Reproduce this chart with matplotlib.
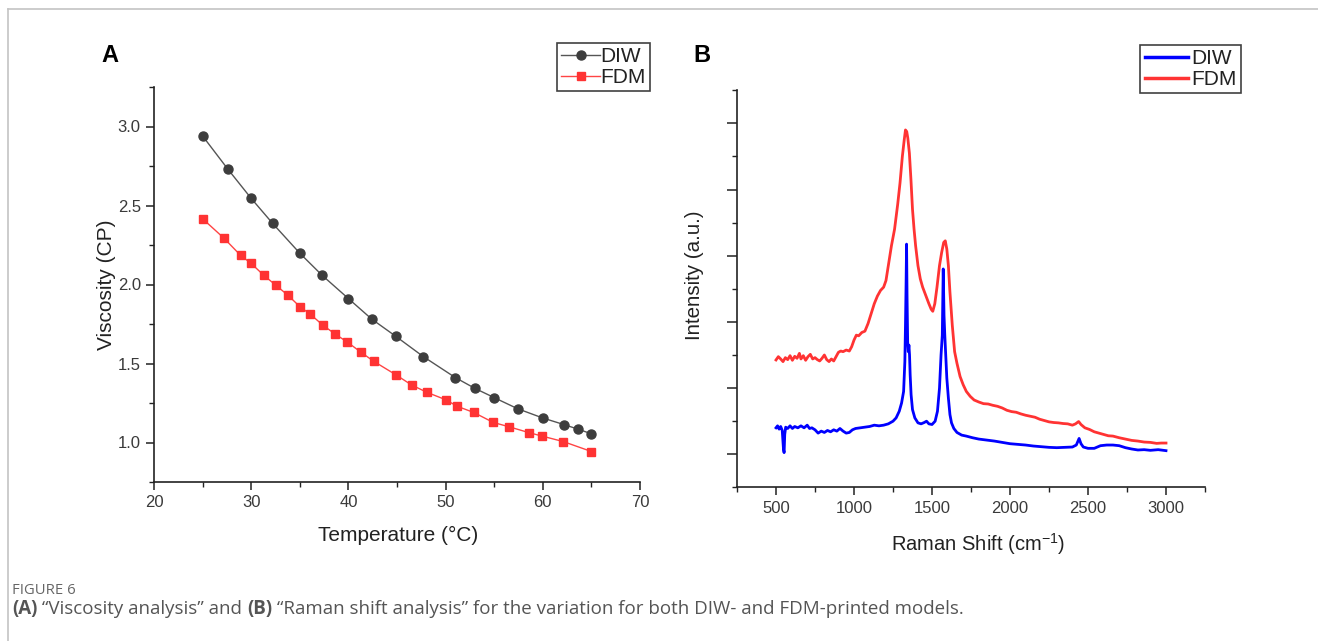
import matplotlib
matplotlib.use('Agg')
import matplotlib.pyplot as plt
from matplotlib.lines import Line2D
from matplotlib.ticker import MultipleLocator, NullFormatter

plt.rcParams['font.family'] = ['Liberation Sans', 'DejaVu Sans']
plt.rcParams['mathtext.default'] = 'regular'

W, H = 1318, 641

# ---- panel A: viscosity vs temperature ----
DIW_T = [25.0, 27.6, 30.0, 32.2, 35.0, 37.3, 40.0, 42.4, 44.9, 47.7, 51.0,
         53.0, 55.0, 57.4, 60.0, 62.2, 63.6, 65.0]
DIW_V = [2.94, 2.73, 2.545, 2.387, 2.198, 2.058, 1.911, 1.781, 1.671, 1.544,
         1.411, 1.343, 1.284, 1.214, 1.155, 1.113, 1.085, 1.055]

FDM_T = [25.0, 27.2, 28.9, 30.0, 31.3, 32.5, 33.8, 35.0, 36.1, 37.4, 38.65,
         39.9, 41.3, 42.6, 44.9, 46.5, 48.1, 50.0, 51.2, 52.9, 54.9, 56.5,
         58.6, 59.9, 62.1, 65.0]
FDM_V = [2.416, 2.293, 2.185, 2.133, 2.058, 1.997, 1.931, 1.860, 1.811, 1.741,
         1.686, 1.635, 1.571, 1.514, 1.428, 1.364, 1.317, 1.271, 1.229, 1.190,
         1.127, 1.100, 1.062, 1.041, 1.006, 0.943]

# ---- panel B: Raman spectra (arbitrary intensity units) ----
DIW_SHIFT = [500, 510, 520, 530, 540, 548, 552, 556, 562, 575, 590, 605, 620,
             640, 660, 680, 700, 715, 730, 750, 770, 790, 810, 830, 850, 870,
             890, 910, 930, 950, 970, 990, 1010, 1040, 1070, 1100, 1130, 1160,
             1190, 1220, 1250, 1270, 1290, 1305, 1318, 1326, 1330, 1334, 1337,
             1340, 1344, 1348, 1352, 1356, 1360, 1366, 1375, 1390, 1410, 1430,
             1450, 1465, 1480, 1500, 1520, 1535, 1548, 1558, 1566, 1572, 1577,
             1582, 1588, 1595, 1605, 1615, 1625, 1640, 1660, 1690, 1720, 1760,
             1800, 1850, 1900, 1950, 2000, 2050, 2100, 2150, 2200, 2250, 2300,
             2350, 2400, 2425, 2443, 2455, 2470, 2500, 2540, 2580, 2620, 2660,
             2700, 2740, 2780, 2820, 2860, 2900, 2950, 3000]
DIW_INT = [0.80, 0.86, 0.76, 0.84, 0.72, 0.15, 0.05, 0.60, 0.82, 0.78, 0.86,
           0.78, 0.84, 0.80, 0.86, 0.80, 0.88, 0.78, 0.80, 0.74, 0.64, 0.70,
           0.66, 0.72, 0.68, 0.74, 0.70, 0.78, 0.70, 0.64, 0.66, 0.74, 0.78,
           0.80, 0.82, 0.84, 0.88, 0.86, 0.88, 0.92, 1.00, 1.10, 1.30, 1.55,
           1.90, 2.80, 3.90, 5.20, 6.35, 4.80, 3.40, 3.10, 3.30, 3.00, 2.40,
           1.80, 1.35, 1.10, 0.95, 0.92, 0.96, 1.00, 0.92, 0.90, 1.00, 1.30,
           2.00, 3.00, 3.60, 5.60, 4.20, 3.60, 3.00, 2.30, 1.70, 1.20, 0.95,
           0.78, 0.66, 0.58, 0.55, 0.50, 0.46, 0.43, 0.40, 0.36, 0.32, 0.30,
           0.28, 0.25, 0.23, 0.21, 0.20, 0.21, 0.22, 0.28, 0.48, 0.32, 0.22,
           0.18, 0.18, 0.26, 0.28, 0.28, 0.26, 0.20, 0.16, 0.13, 0.14, 0.12,
           0.14, 0.11]

FDM_SHIFT = [500, 515, 530, 545, 560, 575, 590, 605, 620, 635, 650, 660, 675,
             690, 705, 720, 735, 750, 765, 780, 795, 810, 825, 840, 855, 870,
             885, 900, 915, 930, 950, 970, 985, 1000, 1015, 1030, 1050, 1070,
             1090, 1110, 1130, 1150, 1170, 1190, 1205, 1220, 1240, 1260, 1280,
             1295, 1310, 1322, 1330, 1338, 1345, 1355, 1365, 1375, 1385, 1395,
             1410, 1425, 1440, 1460, 1480, 1495, 1505, 1518, 1532, 1548, 1562,
             1575, 1585, 1595, 1605, 1615, 1630, 1645, 1660, 1680, 1700, 1720,
             1745, 1770, 1800, 1830, 1860, 1890, 1920, 1950, 1980, 2010, 2040,
             2070, 2100, 2130, 2160, 2190, 2220, 2250, 2280, 2310, 2340, 2370,
             2400, 2420, 2440, 2455, 2480, 2510, 2540, 2570, 2600, 2630, 2660,
             2700, 2740, 2780, 2820, 2860, 2900, 2940, 2970, 3000]
FDM_INT = [2.85, 2.95, 2.88, 2.80, 2.92, 2.86, 2.98, 2.84, 2.96, 2.90, 3.05,
           2.88, 2.98, 2.84, 2.95, 3.02, 2.88, 2.92, 2.86, 2.82, 2.90, 3.00,
           2.86, 2.80, 2.88, 2.82, 2.95, 3.08, 3.12, 3.10, 3.15, 3.12, 3.25,
           3.45, 3.60, 3.58, 3.68, 3.72, 3.95, 4.25, 4.55, 4.78, 4.95, 5.05,
           5.25, 5.70, 6.30, 6.80, 7.55, 8.20, 9.00, 9.50, 9.80, 9.75, 9.55,
           9.10, 8.30, 7.40, 6.80, 6.30, 5.70, 5.30, 5.05, 4.80, 4.55, 4.38,
           4.32, 4.55, 5.05, 5.70, 6.10, 6.40, 6.45, 6.20, 5.70, 4.90, 3.90,
           3.10, 2.75, 2.35, 2.10, 1.90, 1.75, 1.64, 1.58, 1.53, 1.52, 1.48,
           1.45, 1.40, 1.33, 1.29, 1.27, 1.22, 1.18, 1.15, 1.12, 1.06, 1.02,
           0.98, 0.96, 0.95, 0.93, 0.92, 0.88, 0.92, 0.99, 0.90, 0.80, 0.75,
           0.68, 0.64, 0.60, 0.56, 0.55, 0.50, 0.46, 0.42, 0.40, 0.37, 0.36,
           0.33, 0.34, 0.34]

TICK_COLOR = '#3a3a3a'
LABEL_COLOR = '#222222'

fig = plt.figure(figsize=(W / 100, H / 100), dpi=100)
fig.patch.set_facecolor('white')


def style_axes(ax):
    for side in ['top', 'right']:
        ax.spines[side].set_visible(False)
    for side in ['left', 'bottom']:
        ax.spines[side].set_linewidth(1.2)
        ax.spines[side].set_color('#222222')
    ax.tick_params(which='major', direction='out', length=6, width=1.1,
                   color='#222222', labelcolor=TICK_COLOR, labelsize=12)
    ax.tick_params(which='minor', direction='out', length=3.5, width=1.0,
                   color='#222222')


# panel A
axA = fig.add_axes([154 / W, 1 - 482 / H, 486 / W, 395 / H])
style_axes(axA)
axA.plot(DIW_T, DIW_V, '-', color='#555555', lw=1.0, marker='o', ms=6.5,
         mfc='#3d3d3d', mec='#3d3d3d', label='DIW')
axA.plot(FDM_T, FDM_V, '-', color='#ff4444', lw=1.0, marker='s', ms=6,
         mfc='#ff3333', mec='#ff3333', label='FDM')
axA.set_xlim(20, 70)
axA.set_ylim(0.75, 3.25)
axA.xaxis.set_major_locator(MultipleLocator(10))
axA.xaxis.set_minor_locator(MultipleLocator(5))
axA.yaxis.set_major_locator(MultipleLocator(0.5))
axA.yaxis.set_minor_locator(MultipleLocator(0.25))
axA.yaxis.set_major_formatter(plt.FuncFormatter(lambda v, p: '%.1f' % v))
axA.set_xlabel('Temperature (°C)', fontsize=15, color=LABEL_COLOR)
axA.set_ylabel('Viscosity (CP)', fontsize=15, color=LABEL_COLOR)
axA.xaxis.set_label_coords(0.502, -0.112)
axA.yaxis.set_label_coords(-0.079, 0.5)

# panel B
axB = fig.add_axes([737 / W, 1 - 487.4 / H, 468 / W, 397.2 / H])
style_axes(axB)
axB.tick_params(which='major', axis='y', length=7)
axB.plot(DIW_SHIFT, DIW_INT, '-', color='#0000ff', lw=2.0, label='DIW')
axB.plot(FDM_SHIFT, FDM_INT, '-', color='#ff3333', lw=2.0, label='FDM')
axB.set_xlim(250, 3250)
axB.set_ylim(-1, 11)
axB.xaxis.set_major_locator(MultipleLocator(500))
axB.xaxis.set_minor_locator(MultipleLocator(250))
axB.yaxis.set_major_locator(MultipleLocator(2))
axB.yaxis.set_minor_locator(MultipleLocator(1))
axB.yaxis.set_major_formatter(NullFormatter())
axB.xaxis.set_major_formatter(plt.FuncFormatter(
    lambda v, p: '%d' % v if 500 <= v <= 3000 else ''))
axB.set_xlabel('Raman Shift (cm$^{-1}$)', fontsize=14.5, color=LABEL_COLOR)
axB.set_ylabel('Intensity (a.u.)', fontsize=14.8, color=LABEL_COLOR)
axB.xaxis.set_label_coords(0.515, -0.11)
axB.yaxis.set_label_coords(-0.071, 0.535)

# legends
legA = fig.legend(handles=axA.get_lines(), labels=['DIW', 'FDM'],
                  loc='upper right', bbox_to_anchor=(650 / W, 1 - 43 / H),
                  frameon=True, fancybox=False, fontsize=15, handlelength=1.9,
                  handletextpad=0.0, borderpad=0.2, labelspacing=0.1,
                  borderaxespad=0)
legA.get_frame().set_edgecolor('#111111')
legA.get_frame().set_linewidth(1.2)
for t in legA.get_texts():
    t.set_color(LABEL_COLOR)

legB = fig.legend(handles=axB.get_lines(), labels=['DIW', 'FDM'],
                  loc='upper right', bbox_to_anchor=(1241 / W, 1 - 45 / H),
                  frameon=True, fancybox=False, fontsize=15, handlelength=2.1,
                  handletextpad=0.15, borderpad=0.2, labelspacing=0.1,
                  borderaxespad=0)
legB.get_frame().set_edgecolor('#111111')
legB.get_frame().set_linewidth(1.2)
for line in legB.get_lines():
    line.set_linewidth(2.5)
for t in legB.get_texts():
    t.set_color(LABEL_COLOR)

# panel letters
fig.text(110 / W, 1 - 55 / H, 'A', fontsize=17, fontweight='bold',
         ha='center', va='center')
fig.text(702 / W, 1 - 55 / H, 'B', fontsize=17, fontweight='bold',
         ha='center', va='center')

# thin frame (top and left)
fig.add_artist(Line2D([8 / W, 1], [1 - 9 / H, 1 - 9 / H], color='#c4c4c4', lw=1.2))
fig.add_artist(Line2D([8 / W, 8 / W], [0, 1 - 9 / H], color='#c4c4c4', lw=1.2))

# caption
cap_font = ['Open Sans', 'DejaVu Sans']
fig.text(12 / W, 1 - 590 / H, 'FIGURE 6', fontsize=10.7, color='#666666',
         family=cap_font, va='center')
pieces = [('(A)', 'bold'),
          (' \u201cViscosity analysis\u201d and ', 'normal'),
          ('(B)', 'bold'),
          (' \u201cRaman shift analysis\u201d for the variation for both DIW- and '
           'FDM-printed models.', 'normal')]
renderer = fig.canvas.get_renderer()
x = 12 / W
for s, w in pieces:
    t = fig.text(x, 1 - 609 / H, s, fontsize=13.5, color='#555555',
                 fontweight=w, family=cap_font, va='center')
    bb = t.get_window_extent(renderer)
    x += bb.width / W

fig.savefig('out.png', dpi=100)
